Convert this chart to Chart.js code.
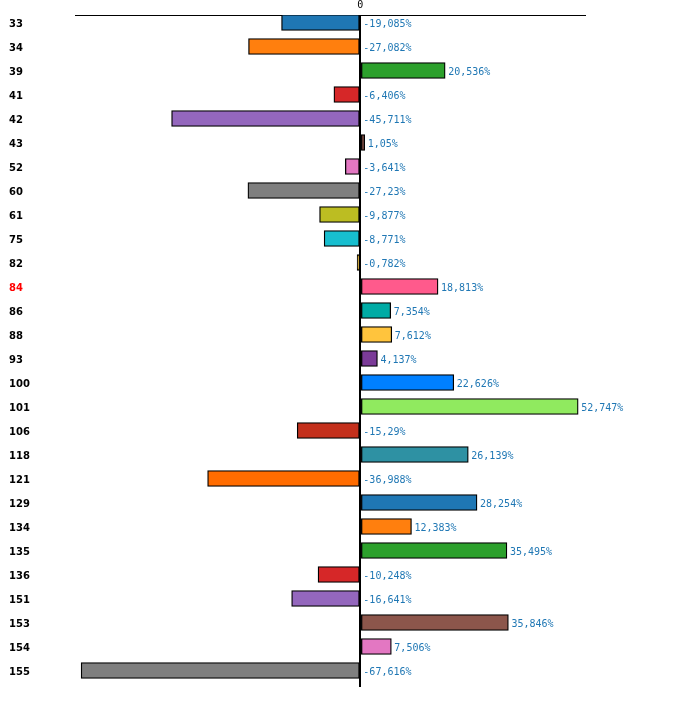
<!DOCTYPE html>
<html>
<head>
<meta charset="UTF-8">
<script src="https://cdn.jsdelivr.net/npm/chart.js@4/dist/chart.umd.min.js"></script>
<style>
  html, body { margin: 0; padding: 0; background: #fff; }
  #wrap { width: 700px; height: 717px; }
</style>
</head>
<body>
<div id="wrap"><canvas id="chart"></canvas></div>
<script>
const categories = ['33', '34', '39', '41', '42', '43', '52', '60', '61', '75', '82', '84', '86', '88', '93',
  '100', '101', '106', '118', '121', '129', '134', '135', '136', '151', '153', '154', '155'];
const values = [-19.085, -27.082, 20.536, -6.406, -45.711, 1.05, -3.641, -27.23, -9.877, -8.771, -0.782, 18.813,
  7.354, 7.612, 4.137, 22.626, 52.747, -15.29, 26.139, -36.988, 28.254, 12.383, 35.495, -10.248, -16.641,
  35.846, 7.506, -67.616];
const valueLabels = ['-19,085%', '-27,082%', '20,536%', '-6,406%', '-45,711%', '1,05%', '-3,641%', '-27,23%',
  '-9,877%', '-8,771%', '-0,782%', '18,813%', '7,354%', '7,612%', '4,137%', '22,626%', '52,747%', '-15,29%',
  '26,139%', '-36,988%', '28,254%', '12,383%', '35,495%', '-10,248%', '-16,641%', '35,846%', '7,506%', '-67,616%'];
const barColors = ['#1f77b4', '#ff7f0e', '#2ca02c', '#d62728', '#9467bd', '#8c564b', '#e377c2', '#7f7f7f',
  '#bcbd22', '#17becf', '#f5b400', '#ff5a8c', '#00aba5', '#ffc43d', '#7b3b98', '#0080ff', '#90ea5f', '#c4301c',
  '#2e91a3', '#ff6c00', '#1f77b4', '#ff7f0e', '#2ca02c', '#d62728', '#9467bd', '#8c564b', '#e377c2', '#7f7f7f'];
const highlight = '84';

// bars sit on a linear index axis so the band layout matches the original
const points = values.map((v, i) => ({ x: v, y: i }));

const valueLabelPlugin = {
  id: 'valueLabels',
  afterDatasetsDraw(chart) {
    const ctx = chart.ctx;
    const xs = chart.scales.x;
    const meta = chart.getDatasetMeta(0);
    ctx.save();
    ctx.font = '10px "DejaVu Sans Mono"';
    ctx.fillStyle = '#1f77b4';
    ctx.textBaseline = 'middle';
    ctx.textAlign = 'left';
    meta.data.forEach((bar, i) => {
      const x = xs.getPixelForValue(Math.max(0, values[i])) + 3;
      ctx.fillText(valueLabels[i], x, bar.y + 2);
    });
    ctx.restore();
  }
};

new Chart(document.getElementById('chart'), {
  type: 'bar',
  data: {
    datasets: [{
      data: points,
      backgroundColor: barColors,
      borderColor: '#000',
      borderWidth: 1.3,
      borderSkipped: false,
      barThickness: 16
    }]
  },
  options: {
    indexAxis: 'y',
    responsive: true,
    maintainAspectRatio: false,
    animation: false,
    layout: { padding: { left: 9, right: 115, top: 0, bottom: 30 } },
    plugins: { legend: { display: false }, tooltip: { enabled: false } },
    scales: {
      x: {
        type: 'linear',
        position: 'top',
        min: -69.1,
        max: 54.4,
        afterBuildTicks: (axis) => { axis.ticks = [{ value: 0 }]; },
        afterFit: (axis) => { axis.height = 15; },
        border: { display: true, color: '#000', width: 1 },
        grid: { drawTicks: false, color: '#000', lineWidth: 2 },
        ticks: { color: '#000', padding: 4, font: { family: 'DejaVu Sans Mono', size: 10 } }
      },
      y: {
        type: 'linear',
        reverse: true,
        offset: false,
        min: -0.3125,
        max: 27.6875,
        afterBuildTicks: (axis) => { axis.ticks = categories.map((c, i) => ({ value: i })); },
        afterFit: (axis) => { axis.width = 66; },
        border: { display: false },
        grid: { display: false },
        ticks: {
          crossAlign: 'far',
          padding: 0,
          labelOffset: 2,
          autoSkip: false,
          callback: (v) => categories[v],
          color: (ctx) => categories[ctx.index] === highlight ? '#ff0000' : '#000',
          font: { family: 'DejaVu Sans', size: 10, weight: 'bold' }
        }
      }
    }
  },
  plugins: [valueLabelPlugin]
});
</script>
</body>
</html>
